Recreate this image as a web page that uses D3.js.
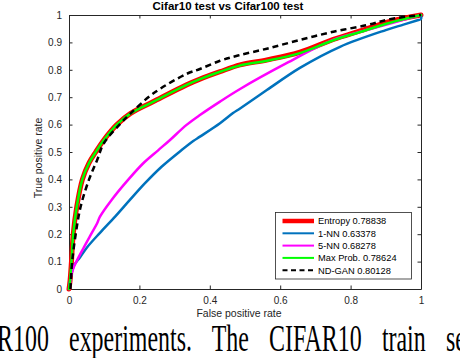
<!DOCTYPE html>
<html><head><meta charset="utf-8">
<script src="https://cdn.jsdelivr.net/npm/d3@7"></script>
<style>
html,body{margin:0;padding:0;background:#fff;overflow:hidden;}
svg{display:block;}
</style></head>
<body>
<script>
// ---- data ----
const titleText = "Cifar10 test vs Cifar100 test";
const xLabel = "False positive rate";
const yLabel = "True positive rate";
const xTicks = [0, 0.2, 0.4, 0.6, 0.8, 1];
const yTicks = [0, 0.1, 0.2, 0.3, 0.4, 0.5, 0.6, 0.7, 0.8, 0.9, 1];
const seriesNames = ["Entropy 0.78838", "1-NN 0.63378", "5-NN 0.68278", "Max Prob. 0.78624", "ND-GAN 0.80128"];

const entropyFpr = [0, 0.003, 0.007, 0.012, 0.022, 0.038, 0.057, 0.076, 0.099, 0.136, 0.175, 0.24, 0.334, 0.372, 0.429, 0.486, 0.562, 0.656, 0.751, 0.827, 0.912, 1];
const entropyTpr = [0, 0.03, 0.1, 0.2, 0.3, 0.4, 0.46, 0.5, 0.544, 0.6, 0.641, 0.684, 0.745, 0.766, 0.793, 0.818, 0.836, 0.864, 0.911, 0.942, 0.977, 1];

const nn1Fpr = [0, 0.003, 0.014, 0.031, 0.05, 0.088, 0.131, 0.173, 0.216, 0.263, 0.32, 0.353, 0.372, 0.429, 0.466, 0.486, 0.562, 0.656, 0.77, 0.9, 0.95, 0.988, 1, 1];
const nn1Tpr = [0, 0.03, 0.085, 0.115, 0.15, 0.205, 0.264, 0.325, 0.386, 0.446, 0.507, 0.54, 0.556, 0.605, 0.642, 0.659, 0.726, 0.807, 0.884, 0.945, 0.965, 0.98, 0.985, 1];

const nn5Fpr = [0, 0.003, 0.005, 0.014, 0.043, 0.064, 0.08, 0.088, 0.121, 0.169, 0.211, 0.254, 0.287, 0.334, 0.372, 0.429, 0.486, 0.618, 0.75, 0.846, 0.93, 1];
const nn5Tpr = [0, 0.02, 0.045, 0.081, 0.154, 0.203, 0.24, 0.264, 0.325, 0.4, 0.459, 0.507, 0.544, 0.599, 0.635, 0.684, 0.73, 0.824, 0.909, 0.945, 0.975, 1];

const maxProbFpr = [0, 0.003, 0.007, 0.012, 0.022, 0.038, 0.057, 0.076, 0.099, 0.136, 0.175, 0.24, 0.334, 0.372, 0.429, 0.486, 0.562, 0.656, 0.751, 0.827, 0.912, 1];
const maxProbTpr = [0, 0.03, 0.1, 0.2, 0.3, 0.4, 0.46, 0.5, 0.544, 0.6, 0.641, 0.684, 0.745, 0.766, 0.793, 0.816, 0.833, 0.861, 0.908, 0.938, 0.972, 1];

const ganFpr = [0.004, 0.005, 0.009, 0.019, 0.033, 0.057, 0.08, 0.099, 0.147, 0.175, 0.24, 0.334, 0.372, 0.429, 0.48, 0.562, 0.656, 0.751, 0.846, 0.912, 1];
const ganTpr = [0, 0.02, 0.1, 0.2, 0.3, 0.4, 0.471, 0.532, 0.605, 0.641, 0.714, 0.785, 0.803, 0.833, 0.852, 0.877, 0.909, 0.939, 0.963, 0.985, 1];

const captionText = "R100 experiments. The CIFAR10 train set";

// ---- chart ----
const W = 460, H = 358;
const svg = d3.select("body").append("svg").attr("width", W).attr("height", H);
const x = d3.scaleLinear().domain([0, 1]).range([69, 421]);
const y = d3.scaleLinear().domain([0, 1]).range([289, 15]);
const axisColor = "#262626";
const font = "'Liberation Sans', Arial, Helvetica, sans-serif";

svg.append("clipPath").attr("id", "plotclip").append("rect")
  .attr("x", 60).attr("y", 8).attr("width", 370).attr("height", 290);

const series = [
  {name: seriesNames[0], fpr: entropyFpr, tpr: entropyTpr, color: "#FF0000", w: 5, dash: null},
  {name: seriesNames[1], fpr: nn1Fpr, tpr: nn1Tpr, color: "#0072BD", w: 2.5, dash: null},
  {name: seriesNames[2], fpr: nn5Fpr, tpr: nn5Tpr, color: "#FF00FF", w: 2.5, dash: null},
  {name: seriesNames[3], fpr: maxProbFpr, tpr: maxProbTpr, color: "#00FF00", w: 2.5, dash: null},
  {name: seriesNames[4], fpr: ganFpr, tpr: ganTpr, color: "#000000", w: 2.5, dash: "6,4"}
];

const xAxisB = d3.axisBottom(x).tickValues(xTicks).tickSizeInner(-3.5).tickSizeOuter(0).tickPadding(8)
  .tickFormat(d => d3.format("")(d));
const xAxisT = d3.axisTop(x).tickValues(xTicks).tickSizeInner(-3.5).tickSizeOuter(0).tickFormat("");
const yAxisL = d3.axisLeft(y).tickValues(yTicks).tickSizeInner(-3.5).tickSizeOuter(0).tickPadding(7)
  .tickFormat(d => d3.format("")(+d.toFixed(1)));
const yAxisR = d3.axisRight(y).tickValues(yTicks).tickSizeInner(-3.5).tickSizeOuter(0).tickFormat("");

function styleAxis(g){
  g.select(".domain").attr("stroke", axisColor).attr("stroke-width", 1);
  g.selectAll(".tick line").attr("stroke", axisColor).attr("stroke-width", 1);
  g.selectAll(".tick text").attr("fill", axisColor).style("font-family", font).style("font-size", "10px");
}
svg.append("g").attr("transform", "translate(0,289)").call(xAxisB).call(styleAxis);
svg.append("g").attr("transform", "translate(0,15)").call(xAxisT).call(styleAxis);
svg.append("g").attr("transform", "translate(69,0)").call(yAxisL).call(styleAxis);
svg.append("g").attr("transform", "translate(421,0)").call(yAxisR).call(styleAxis);

const line = d3.line().x(d => x(d[0])).y(d => y(d[1])).curve(d3.curveCatmullRom.alpha(0.5));
const plot = svg.append("g").attr("clip-path", "url(#plotclip)");
series.forEach(s => {
  const pts = s.fpr.map((f, i) => [f, s.tpr[i]]);
  plot.append("path").datum(pts).attr("d", line)
    .attr("fill", "none").attr("stroke", s.color).attr("stroke-width", s.w)
    .attr("stroke-linejoin", "round").attr("stroke-linecap", s.dash ? "butt" : "round")
    .attr("stroke-dasharray", s.dash);
});

svg.append("text").attr("x", 228).attr("y", 10).attr("text-anchor", "middle")
  .style("font-family", font).style("font-size", "11.5px").style("font-weight", "bold")
  .attr("fill", "#000").text(titleText);
svg.append("text").attr("x", 239).attr("y", 317).attr("text-anchor", "middle")
  .style("font-family", font).style("font-size", "10.5px").attr("fill", axisColor).text(xLabel);
svg.append("text").attr("transform", "translate(42,158) rotate(-90)").attr("text-anchor", "middle")
  .style("font-family", font).style("font-size", "10.5px").attr("fill", axisColor).text(yLabel);

const lg = svg.append("g");
lg.append("rect").attr("x", 275.5).attr("y", 212.5).attr("width", 136).attr("height", 66.5)
  .attr("fill", "#fff").attr("stroke", axisColor).attr("stroke-width", 0.8);
series.forEach((s, i) => {
  const yy = 221 + i * 12.3;
  lg.append("line").attr("x1", 282.5).attr("x2", 314).attr("y1", yy).attr("y2", yy)
    .attr("stroke", s.color).attr("stroke-width", i === 0 ? 4.5 : 2)
    .attr("stroke-dasharray", s.dash ? "5,3.5" : null);
  lg.append("text").attr("x", 318).attr("y", yy + 3.3)
    .style("font-family", font).style("font-size", "9.3px").attr("fill", "#000").text(s.name);
});

// caption fragment at bottom (cropped page text)
svg.append("text").attr("transform", "translate(-3,351) scale(0.63,1)")
  .style("font-family", "'Liberation Serif', 'Times New Roman', serif").style("font-size", "38px")
  .attr("word-spacing", "22.5px").attr("fill", "#000").text(captionText);
</script>
</body></html>
